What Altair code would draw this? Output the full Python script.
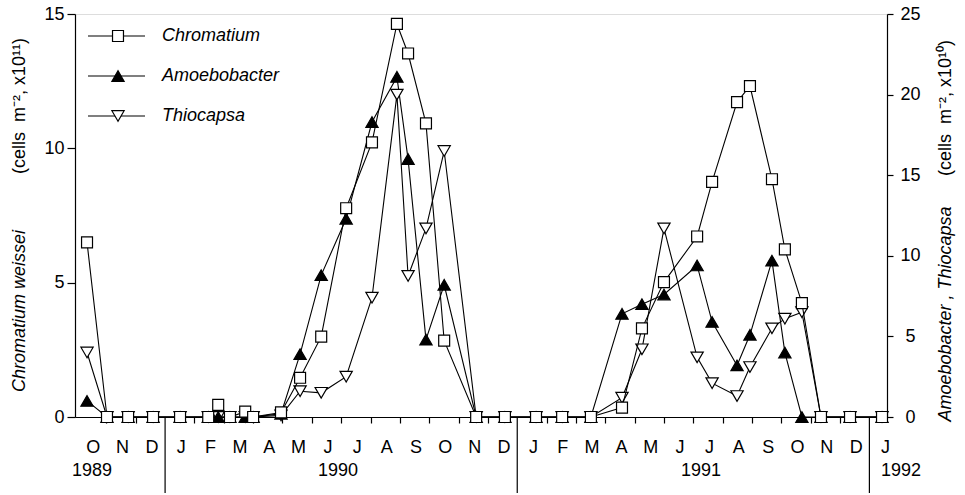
import altair as alt
import pandas as pd

# sampling dates in months since 1 Jan 1990
months = [-2.66, -1.98, -1.26, -0.41, 0.51, 1.47, 1.81, 2.21, 2.73, 3.00,
          3.95, 4.60, 5.32, 6.17, 7.05, 7.90, 8.28, 8.89, 9.51, 10.60,
          11.58, 12.64, 13.53, 14.51, 15.57, 16.25, 17.00, 18.13, 18.64, 19.49,
          19.93, 20.68, 21.12, 21.70, 22.35, 23.34, 24.43]
# Chromatium weissei, cells m-2 x10^11 (left axis)
chromatium = [6.5, 0, 0, 0, 0, 0, 0.45, 0, 0.2, 0,
              0.17, 1.46, 2.99, 7.77, 10.22, 14.63, 13.53, 10.93, 2.84, 0,
              0, 0, 0, 0, 0.35, 3.30, 5.02, 6.72, 8.75, 11.72,
              12.32, 8.85, 6.24, 4.24, 0, 0, 0]
# Amoebobacter, cells m-2 x10^10 (right axis)
amoebobacter = [1.0, 0, 0, 0, 0, 0, 0, 0, 0, 0,
                0.2, 3.9, 8.8, 12.3, 18.3, 21.1, 16.0, 4.8, 8.2, 0,
                0, 0, 0, 0, 6.4, 7.0, 7.6, 9.4, 5.9, 3.2,
                5.1, 9.7, 4.0, 0, 0, 0, 0]
# Thiocapsa, cells m-2 x10^10 (right axis)
thiocapsa = [4.0, 0, 0, 0, 0, 0, 0, 0, 0, 0,
             0.1, 1.6, 1.5, 2.5, 7.4, 20.0, 8.75, 11.7, 16.5, 0,
             0, 0, 0, 0, 1.2, 4.2, 11.7, 3.7, 2.1, 1.3,
             3.1, 5.5, 6.1, 6.5, 0, 0, 0]

month_letters = list("ONDJFMAMJJASONDJFMAMJJASONDJ")  # Oct 1989 .. Jan 1992
first_month = -3
years = ["1989", "1990", "1991", "1992"]
year_pos = [-2.49, 5.89, 18.26, 25.08]
year_bounds = [0, 12, 24]
left_ticks = [0, 5, 10, 15]
right_ticks = [0, 5, 10, 15, 20, 25]
series_names = ["Chromatium", "Amoebobacter", "Thiocapsa"]

W, H = 812, 403
FONT = "Liberation Sans"
FS = 18

xscale = alt.Scale(domain=[-3.07, 24.6], nice=False, zero=False)
tick_vals = [m for m in range(-2, 24) if m not in year_bounds]
xaxis = alt.Axis(values=tick_vals, labels=False, title=None, ticks=True,
                 tickSize=6, grid=False, domain=True, domainColor="black",
                 tickColor="black", domainWidth=1.2, tickWidth=1.2)


def X(field):
    return alt.X(f"{field}:Q", scale=xscale, axis=xaxis)


df = pd.DataFrame({"m": months, "chrom": chromatium,
                   "amoeb": amoebobacter, "thio": thiocapsa})
base = alt.Chart(df)

yR = alt.Scale(domain=[0, 25], nice=False, zero=True)
yL = alt.Scale(domain=[0, 15], nice=False, zero=True)
common_ax = dict(title=None, grid=False, labelFlush=False, labelOverlap=False,
                 labelFont=FONT, labelFontSize=FS, labelColor="black",
                 domainColor="black", tickColor="black", domainWidth=1.2,
                 tickWidth=1.2)
axR = alt.Axis(orient="right", values=right_ticks, tickSize=6,
               labelPadding=17, labelAlign="center", **common_ax)
axL = alt.Axis(orient="left", values=left_ticks, tickSize=8,
               labelPadding=3, **common_ax)

styles = {
    "chrom": dict(shape="square", fill="white", size=120),
    "amoeb": dict(shape="triangle-up", fill="black", size=150),
    "thio": dict(shape="triangle-down", fill="white", size=150),
}


def line(field, ys, ya):
    return base.mark_line(color="black", strokeWidth=1.1).encode(
        x=X("m"), y=alt.Y(f"{field}:Q", scale=ys, axis=ya))


def pts(field, ys, ya):
    s = styles[field]
    return base.mark_point(shape=s["shape"], filled=True, fill=s["fill"],
                           stroke="black", strokeWidth=1.2, size=s["size"],
                           opacity=1).encode(
        x=X("m"), y=alt.Y(f"{field}:Q", scale=ys, axis=ya))


right = alt.layer(line("thio", yR, axR), line("amoeb", yR, axR),
                  pts("thio", yR, axR), pts("amoeb", yR, axR))
left = alt.layer(line("chrom", yL, axL), pts("chrom", yL, axL))

mdf = pd.DataFrame({"pos": [first_month + i + 0.55 for i in range(len(month_letters))],
                    "lab": month_letters})
month_text = alt.Chart(mdf).mark_text(font=FONT, fontSize=FS, baseline="middle",
                                      align="center", color="black").encode(
    x=X("pos"), y=alt.value(H + 31), text="lab:N")

ydf = pd.DataFrame({"pos": year_pos, "lab": years})
year_text = alt.Chart(ydf).mark_text(font=FONT, fontSize=FS, baseline="middle",
                                     align="center", color="black").encode(
    x=X("pos"), y=alt.value(H + 54), text="lab:N")

bdf = pd.DataFrame({"b": year_bounds})
year_rules = alt.Chart(bdf).mark_rule(color="black", strokeWidth=1.2).encode(
    x=X("b"), y=alt.value(H), y2=alt.value(H + 76))

# legend
legend_layers = []
keys = ["chrom", "amoeb", "thio"]
for i, (name, key) in enumerate(zip(series_names, keys)):
    ly = 22 + i * 40
    ldf = pd.DataFrame({"name": [name]})
    c = alt.Chart(ldf)
    s = styles[key]
    legend_layers.append(c.mark_rule(color="black", strokeWidth=1.2).encode(
        x=alt.value(13), x2=alt.value(70), y=alt.value(ly)))
    legend_layers.append(c.mark_point(shape=s["shape"], filled=True, fill=s["fill"],
                                      stroke="black", strokeWidth=1.2, size=s["size"],
                                      opacity=1).encode(
        x=alt.value(43), y=alt.value(ly)))
    legend_layers.append(c.mark_text(font=FONT, fontSize=FS, fontStyle="italic",
                                     align="left", baseline="middle", color="black").encode(
        x=alt.value(87), y=alt.value(ly), text="name:N"))

# axis titles (mixed italic / roman)
NB = "\u00a0"
tdf = pd.DataFrame({"t": [
    "Chromatium weissei",
    f"(cells{NB}{NB}m\u207b\u00b2, x10\u00b9\u00b9)",
    f"Amoebobacter{NB},{NB}Thiocapsa",
    f"(cells{NB}{NB}m\u207b\u00b2, x10\u00b9\u2070)",
]})
title_specs = [(0, -55, 297, "italic"), (1, -55, 92, "normal"),
               (2, 871, 300, "italic"), (3, 871, 94, "normal")]
title_layers = []
for idx, tx, ty, st in title_specs:
    title_layers.append(alt.Chart(tdf.iloc[[idx]]).mark_text(
        font=FONT, fontSize=FS, fontStyle=st, angle=270, align="center",
        baseline="middle", color="black").encode(
        x=alt.value(tx), y=alt.value(ty), text="t:N"))

chart = alt.layer(right, left, month_text, year_text, year_rules,
                  *legend_layers, *title_layers).resolve_scale(
    y="independent"
).properties(
    width=W, height=H,
    autosize=alt.AutoSizeParams(type="none"),
    padding={"left": 75, "top": 14, "right": 78, "bottom": 78},
).configure_view(stroke="black", strokeWidth=1.2).configure_axis(
    domainColor="black", tickColor="black", labelColor="black",
    labelFont=FONT, labelFontSize=FS, domainWidth=1.2, tickWidth=1.2
).configure(background="white")

chart.save("out.html", embed_options={"renderer": "svg", "actions": False})
